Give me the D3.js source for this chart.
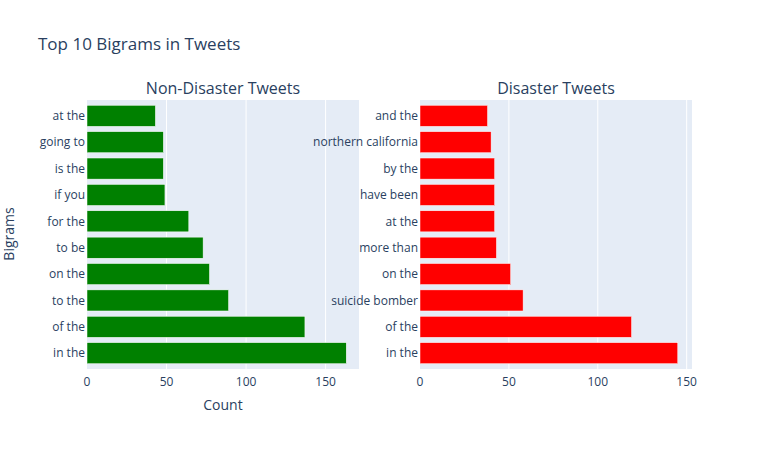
<!DOCTYPE html>
<html><head><meta charset="utf-8">
<script src="https://cdn.jsdelivr.net/npm/d3@7/dist/d3.min.js"></script>
<style>body{margin:0;background:#fff}text{font-family:"Open Sans",Arial,sans-serif;fill:#2a3f5f}</style>
</head><body><svg id="c" width="772" height="450"></svg>
<script>
// bottom-to-top order as drawn
const nonDisasterBigrams = ['in the', 'of the', 'to the', 'on the', 'to be', 'for the', 'if you', 'is the', 'going to', 'at the']
const nonDisasterCounts = [163, 137, 89, 77, 73, 64, 49, 48, 48, 43]
const disasterBigrams = ['in the', 'of the', 'suicide bomber', 'on the', 'more than', 'at the', 'have been', 'by the', 'northern california', 'and the']
const disasterCounts = [145, 119, 58, 51, 43, 42, 42, 42, 40, 38]
const xTicks = [0, 50, 100, 150]

const svg = d3.select('#c')
const plotTop = 100, plotBottom = 369

svg.append('text').attr('x', 38).attr('y', 50).attr('font-size', 17).text('Top 10 Bigrams in Tweets')

function panel(x0, x1, maxX, names, vals, color, title) {
  const x = d3.scaleLinear().domain([0, maxX]).range([x0, x1])
  const y = d3.scaleBand().domain(names).range([plotBottom, plotTop]).padding(0.2)
  svg.append('rect').attr('x', x0).attr('y', plotTop).attr('width', x1 - x0).attr('height', plotBottom - plotTop).attr('fill', '#e5ecf6')
  xTicks.forEach(t => {
    if (t > 0) svg.append('line').attr('x1', x(t)).attr('x2', x(t)).attr('y1', plotTop).attr('y2', plotBottom).attr('stroke', '#fff').attr('stroke-width', 1)
    svg.append('text').attr('x', x(t)).attr('y', plotBottom + 17).attr('text-anchor', 'middle').attr('font-size', 12).text(t)
  })
  names.forEach((n, i) => {
    svg.append('rect').attr('x', x(0)).attr('y', y(n)).attr('width', x(vals[i]) - x(0)).attr('height', y.bandwidth())
      .attr('fill', color).attr('stroke', '#fff').attr('stroke-width', 0.5)
    svg.append('text').attr('x', x0 - 2).attr('y', y(n) + y.bandwidth() / 2).attr('dy', '0.35em')
      .attr('text-anchor', 'end').attr('font-size', 12).text(n)
  })
  svg.append('text').attr('x', (x0 + x1) / 2).attr('y', 94).attr('text-anchor', 'middle').attr('font-size', 16).text(title)
}
panel(87, 359, 171, nonDisasterBigrams, nonDisasterCounts, '#008000', 'Non-Disaster Tweets')
panel(420, 692, 153, disasterBigrams, disasterCounts, '#ff0000', 'Disaster Tweets')

svg.append('text').attr('x', 223).attr('y', 410).attr('text-anchor', 'middle').attr('font-size', 14).text('Count')
svg.append('text').attr('transform', 'translate(14,234) rotate(-90)').attr('text-anchor', 'middle').attr('font-size', 14).text('Bigrams')
</script></body></html>
